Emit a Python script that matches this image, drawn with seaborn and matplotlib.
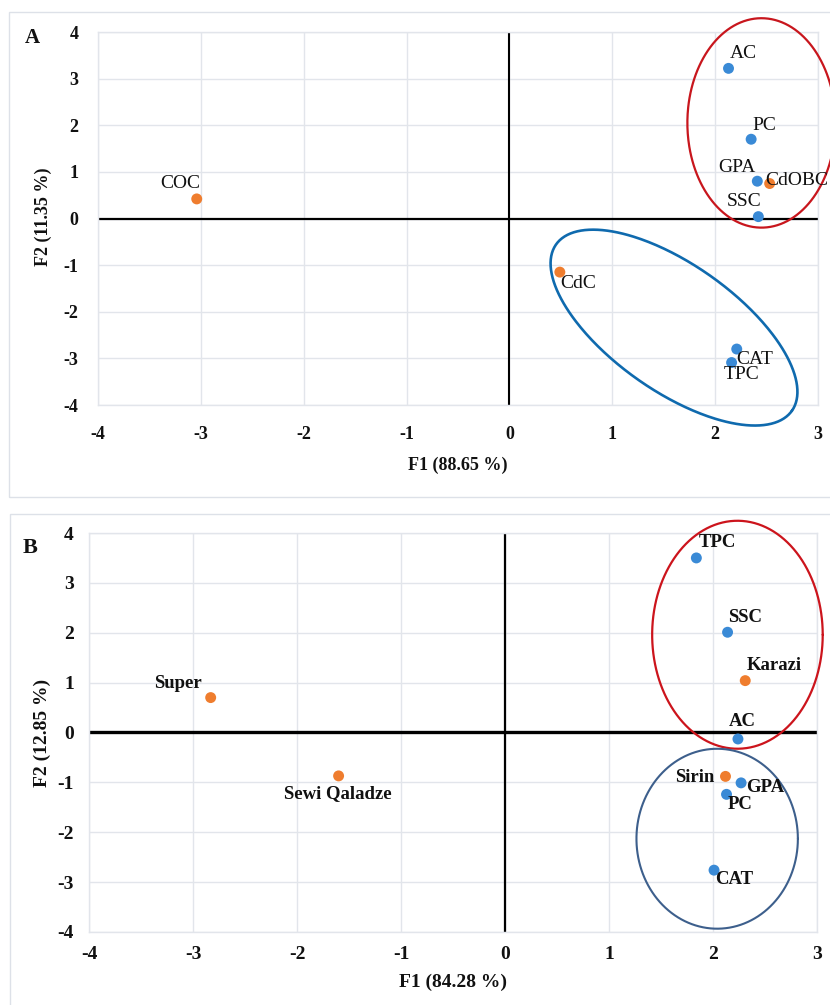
import numpy as np
import pandas as pd
import matplotlib
matplotlib.use("Agg")
import matplotlib.pyplot as plt
import seaborn as sns
from matplotlib.patches import Rectangle

sns.set_theme(style="white")
plt.rcParams['font.family'] = ['Liberation Serif', 'DejaVu Serif']
plt.rcParams['axes.unicode_minus'] = False

# ---------------- data ----------------
# Panel A
a_labels = ["AC", "PC", "GPA", "CdOBC", "SSC", "COC", "CdC", "CAT", "TPC"]
a_f1 = [2.13, 2.35, 2.41, 2.53, 2.42, -3.04, 0.49, 2.21, 2.16]
a_f2 = [3.22, 1.70, 0.80, 0.75, 0.04, 0.42, -1.15, -2.80, -3.09]
a_kind = ["var", "var", "var", "obs", "var", "obs", "obs", "var", "var"]
a_xlabel = "F1 (88.65 %)"
a_ylabel = "F2 (11.35 %)"

# Panel B
b_labels = ["TPC", "SSC", "Karazi", "AC", "Sirin", "GPA", "PC", "CAT", "Super", "Sewi Qaladze"]
b_f1 = [1.84, 2.14, 2.31, 2.24, 2.12, 2.27, 2.13, 2.01, -2.83, -1.60]
b_f2 = [3.50, 2.01, 1.04, -0.13, -0.88, -1.01, -1.24, -2.76, 0.70, -0.87]
b_kind = ["var", "var", "obs", "var", "obs", "var", "var", "var", "obs", "obs"]
b_xlabel = "F1 (84.28 %)"
b_ylabel = "F2 (12.85 %)"

x_ticks = [-4, -3, -2, -1, 0, 1, 2, 3]
y_ticks = [-4, -3, -2, -1, 0, 1, 2, 3, 4]

# ---------------- styles ----------------
palette = {"var": "#3a8ad6", "obs": "#ef7d2e"}
grid_col = "#e2e5eb"

# label offsets in pixels (dx, dy, ha, va)
a_offsets = {
    "AC": (15, 15, "center", "center"),
    "PC": (13, 14, "center", "center"),
    "GPA": (-20, 14, "center", "center"),
    "CdOBC": (-4, 3, "left", "center"),
    "SSC": (-14, 15, "center", "center"),
    "COC": (-16, 15, "center", "center"),
    "CdC": (0, -11, "left", "center"),
    "CAT": (0, -10, "left", "center"),
    "TPC": (10, -12, "center", "center"),
}
b_offsets = {
    "TPC": (21, 15, "center", "center"),
    "SSC": (18, 15, "center", "center"),
    "Karazi": (29, 15, "center", "center"),
    "AC": (4, 17, "center", "center"),
    "Sirin": (-11, -1, "right", "center"),
    "GPA": (5, -5, "left", "center"),
    "PC": (14, -10, "center", "center"),
    "CAT": (1, -9, "left", "center"),
    "Super": (-33, 14, "center", "center"),
    "Sewi Qaladze": (-1, -18, "center", "center"),
}

# ellipses: (cx, cy, semi-axis a [x units], semi-axis b [x units], angle deg, colour, lw)
a_ellipses = [
    (2.45, 2.05, 0.72, 1.018, 0.0, "#c8161d", 1.6),
    (1.60, -2.34, 1.403, 0.615, -35.2, "#0f6aae", 1.9),
]
b_ellipses = [
    (2.235, 1.96, 0.82, 1.096, 0.0, "#cc141c", 1.6),
    (2.04, -2.13, 0.776, 0.865, 0.0, "#3d5f8c", 1.5),
]

W, H = 830, 1005
fig = plt.figure(figsize=(W / 100, H / 100), dpi=100)
fig.patch.set_facecolor("white")

# panel frames
fig.add_artist(Rectangle((9 / W, 1 - 497 / H), 1.2, (497 - 12) / H, transform=fig.transFigure,
                         fill=False, edgecolor="#dde1e8", lw=1.0))
fig.add_artist(Rectangle((10 / W, -0.1), 1.2, 0.1 + (1005 - 514) / H, transform=fig.transFigure,
                         fill=False, edgecolor="#dde1e8", lw=1.0))

axA = fig.add_axes([98 / W, 1 - 405 / H, 720 / W, 373 / H])
axB = fig.add_axes([89 / W, 1 - 932 / H, 728 / W, 399 / H])


def draw_ellipse(ax, cx, cy, a, b, ang, col, lw):
    bb = ax.get_position()
    pxx = bb.width * W / 7.0
    pxy = bb.height * H / 8.0
    k = pxx / pxy
    t = np.linspace(0, 2 * np.pi, 400)
    th = np.deg2rad(ang)
    ex = cx + a * np.cos(t) * np.cos(th) - b * np.sin(t) * np.sin(th)
    ey = cy + (a * np.cos(t) * np.sin(th) + b * np.sin(t) * np.cos(th)) * k
    ax.plot(ex, ey, color=col, lw=lw, clip_on=False, zorder=4)


def panel(ax, labels, f1, f2, kind, offsets, ellipses, xlabel, ylabel, bold_pts,
          pt_size, tick_size, lab_size, hline_w, vline_w, xpad, ypad, xl_pos, yl_pos):
    df = pd.DataFrame({"F1": f1, "F2": f2, "kind": kind, "label": labels})
    ax.set_xlim(-4, 3)
    ax.set_ylim(-4, 4)
    ax.set_xticks(x_ticks)
    ax.set_yticks(y_ticks)
    ax.grid(True, color=grid_col, lw=1.0, zorder=0)
    ax.set_axisbelow(True)
    for s in ax.spines.values():
        s.set_color(grid_col)
        s.set_linewidth(1.0)
    ax.axhline(0, color="black", lw=hline_w, zorder=2)
    ax.axvline(0, color="black", lw=vline_w, zorder=2)
    sns.scatterplot(data=df, x="F1", y="F2", hue="kind", palette=palette, s=62,
                    edgecolor="none", linewidth=0, legend=False, ax=ax, zorder=5)
    for _, r in df.iterrows():
        dx, dy, ha, va = offsets[r["label"]]
        ax.annotate(r["label"], (r["F1"], r["F2"]), xytext=(dx, dy), textcoords="offset pixels",
                    ha=ha, va=va, fontsize=pt_size,
                    fontweight="bold" if bold_pts else "normal", color="#111111",
                    annotation_clip=False, zorder=6)
    for e in ellipses:
        draw_ellipse(ax, *e)
    ax.tick_params(axis="both", length=0, labelsize=tick_size, colors="#111111")
    ax.tick_params(axis="x", pad=xpad)
    ax.tick_params(axis="y", pad=ypad)
    for tl in ax.get_xticklabels() + ax.get_yticklabels():
        tl.set_fontweight("bold")
    ax.set_xlabel(xlabel, fontsize=lab_size, fontweight="bold", color="#111111")
    ax.set_ylabel(ylabel, fontsize=lab_size, fontweight="bold", color="#111111")
    ax.xaxis.set_label_coords(*xl_pos)
    ax.yaxis.set_label_coords(*yl_pos)
    ax.xaxis.label.set_va("center")
    ax.yaxis.label.set_va("center")


panel(axA, a_labels, a_f1, a_f2, a_kind, a_offsets, a_ellipses, a_xlabel, a_ylabel,
      False, 14, 13, 13, 1.6, 1.5, 15, 14, (0.5, -0.161), (-0.076, 0.504))
panel(axB, b_labels, b_f1, b_f2, b_kind, b_offsets, b_ellipses, b_xlabel, b_ylabel,
      True, 13.5, 14, 14, 2.4, 1.6, 10, 11, (0.5, -0.125), (-0.0646, 0.5))

fig.text(32 / W, 1 - 38 / H, "A", fontsize=15, fontweight="bold", ha="center", va="center",
         color="#111111")
fig.text(30 / W, 1 - 548 / H, "B", fontsize=16, fontweight="bold", ha="center", va="center",
         color="#111111")

fig.savefig("out.png", dpi=100)
